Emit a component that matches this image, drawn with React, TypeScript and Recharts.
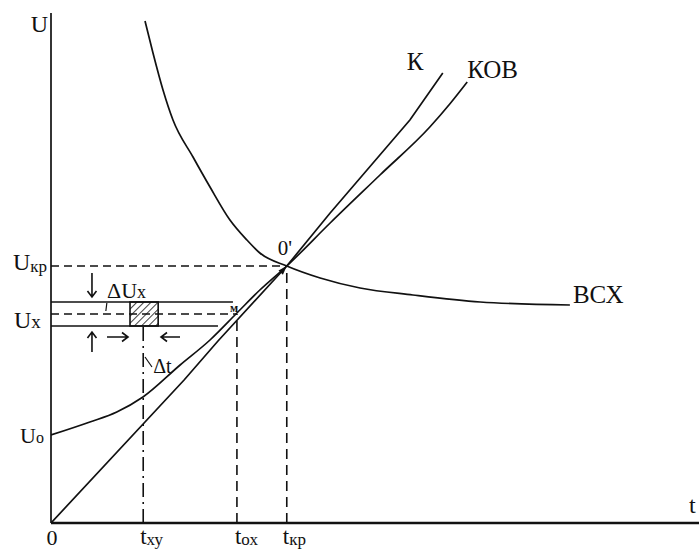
import React from 'react';
import {
  ComposedChart,
  Line,
  XAxis,
  YAxis,
  ReferenceLine,
  ReferenceArea,
  ReferenceDot,
} from 'recharts';

// Axis extents (time t, voltage U)
const T_MAX = 13;
const U_MAX = 10.2;

// Characteristic points
const T_XY = 1.85;
const T_OX = 3.73;
const T_KR = 4.73;
const U_KR = 5.14;
const U_X = 4.18;
const U_X_HI = 4.42;
const U_X_LO = 3.94;
const U_0 = 1.76;
const DT_T1 = 1.585;
const DT_T2 = 2.15;

// Curve К
const K_T = [0, 2.67, 3.35, 4.73, 5.6, 7.2, 7.86];
const K_U = [0, 2.86, 3.64, 5.14, 6.2, 8.06, 9.0];

// Curve КОВ
const KOV_T = [0, 0.78, 1.32, 1.845, 2.59, 3.19, 3.73, 4.19, 4.73, 5.6, 6.6, 7.6, 8.0, 8.35];
const KOV_U = [1.76, 2.02, 2.22, 2.52, 3.16, 3.66, 4.2, 4.66, 5.14, 6.0, 6.96, 7.92, 8.38, 8.82];

// Curve ВСХ
const VSX_T = [1.886, 2.046, 2.247, 2.447, 2.849, 3.19, 3.59, 3.93, 4.19, 4.73, 5.4, 6.2, 7.26, 8.61, 10.41];
const VSX_U = [10.04, 9.4, 8.66, 8.06, 7.32, 6.72, 6.06, 5.66, 5.4, 5.14, 4.9, 4.7, 4.56, 4.42, 4.36];

const toPoints = (ts: number[], us: number[]) => ts.map((t, i) => ({ t, u: us[i] }));
const kData = toPoints(K_T, K_U);
const kovData = toPoints(KOV_T, KOV_U);
const vsxData = toPoints(VSX_T, VSX_U);

const INK = '#111';
const FONT = "'Liberation Serif', 'DejaVu Serif', 'Times New Roman', serif";

type Txt = { main: string; sub?: string; size: number; subSize?: number; subDy?: number; anchor?: 'start' | 'middle' | 'end'; bold?: boolean };

const textShape = (txt: Txt, dx: number, dy: number) => (p: any) => (
  <text
    x={p.cx + dx}
    y={p.cy + dy}
    fill={INK}
    style={{ fontFamily: FONT, fontSize: txt.size, fontWeight: txt.bold ? 700 : 400 }}
    textAnchor={txt.anchor || 'start'}
  >
    {txt.main}
    {txt.sub ? (
      <tspan style={{ fontSize: txt.subSize }} dy={txt.subDy || 0}>
        {txt.sub}
      </tspan>
    ) : null}
  </text>
);

type Dir = 'up' | 'down' | 'left' | 'right';
const arrowShape = (dir: Dir, len: number) => (p: any) => {
  const v: Record<Dir, [number, number]> = { down: [0, 1], up: [0, -1], right: [1, 0], left: [-1, 0] };
  const [vx, vy] = v[dir];
  const { cx, cy } = p;
  const tx = cx - vx * len;
  const ty = cy - vy * len;
  const h = 6;
  const w = 4.5;
  const bx = cx - vx * h;
  const by = cy - vy * h;
  const px = -vy;
  const py = vx;
  const d = `M${tx},${ty} L${cx},${cy} M${bx + px * w},${by + py * w} L${cx},${cy} L${bx - px * w},${by - py * w}`;
  return <path d={d} stroke={INK} strokeWidth={1.6} fill="none" />;
};

// small filled arrowhead on the line at 0'
const tipShape = (p: any) => {
  const { cx, cy } = p;
  const ang = Math.atan2(-1.09, 1);
  const L = 9;
  const W = 3;
  const ux = Math.cos(ang);
  const uy = Math.sin(ang);
  const bx = cx - ux * L;
  const by = cy - uy * L;
  const d = `M${cx},${cy} L${bx - uy * W},${by + ux * W} L${bx + uy * W},${by - ux * W} Z`;
  return <path d={d} fill={INK} />;
};

const hatchShape = (p: any) => (
  <g>
    <defs>
      <pattern id="hatchDt" patternUnits="userSpaceOnUse" width="5" height="5" patternTransform="rotate(45)">
        <line x1="0" y1="0" x2="0" y2="5" stroke={INK} strokeWidth="1.6" />
      </pattern>
    </defs>
    <rect x={p.x} y={p.y} width={p.width} height={p.height} fill="#fff" />
    <rect x={p.x} y={p.y} width={p.width} height={p.height} fill="url(#hatchDt)" stroke={INK} strokeWidth={1.6} />
  </g>
);

const lineProps = { dot: false, stroke: INK, strokeWidth: 1.7, isAnimationActive: false, activeDot: false } as const;

export default function App() {
  return (
    <div style={{ position: 'absolute', left: 0, top: 0, width: 699, height: 550, background: '#fff' }}>
      <ComposedChart width={699} height={550} margin={{ top: 13, right: 0, bottom: 26, left: 50 }}>
        <XAxis
          type="number"
          dataKey="t"
          domain={[0, T_MAX]}
          allowDataOverflow
          tick={false}
          tickLine={false}
          height={1}
          axisLine={{ stroke: INK, strokeWidth: 2.5 }}
        />
        <YAxis
          type="number"
          dataKey="u"
          domain={[0, U_MAX]}
          allowDataOverflow
          tick={false}
          tickLine={false}
          width={1}
          axisLine={{ stroke: INK, strokeWidth: 1.7 }}
        />

        {/* guide lines */}
        <ReferenceLine segment={[{ x: 0, y: U_KR }, { x: T_KR, y: U_KR }]} stroke={INK} strokeWidth={1.6} strokeDasharray="8 5" />
        <ReferenceLine segment={[{ x: 0, y: U_X }, { x: T_OX, y: U_X }]} stroke={INK} strokeWidth={1.6} strokeDasharray="8 5" />
        <ReferenceLine segment={[{ x: 0, y: U_X_HI }, { x: 3.65, y: U_X_HI }]} stroke={INK} strokeWidth={1.6} />
        <ReferenceLine segment={[{ x: 0, y: U_X_LO }, { x: 3.35, y: U_X_LO }]} stroke={INK} strokeWidth={1.6} />
        <ReferenceLine segment={[{ x: T_XY, y: 0 }, { x: T_XY, y: U_X_LO }]} stroke={INK} strokeWidth={1.6} strokeDasharray="14 5 2 5" />
        <ReferenceLine segment={[{ x: T_OX, y: 0 }, { x: T_OX, y: U_X }]} stroke={INK} strokeWidth={1.6} strokeDasharray="10 6" />
        <ReferenceLine segment={[{ x: T_KR, y: 0 }, { x: T_KR, y: U_KR }]} stroke={INK} strokeWidth={1.6} strokeDasharray="10 6" />
        <ReferenceLine segment={[{ x: 1.12, y: 4.4 }, { x: 1.1, y: 4.24 }]} stroke={INK} strokeWidth={1.2} />
        <ReferenceLine segment={[{ x: 1.886, y: 3.32 }, { x: 2.026, y: 3.12 }]} stroke={INK} strokeWidth={1.2} />

        <ReferenceArea x1={DT_T1} x2={DT_T2} y1={U_X_LO} y2={U_X_HI} shape={hatchShape} />

        <Line data={vsxData} dataKey="u" type="monotone" {...lineProps} />
        <Line data={kovData} dataKey="u" type="monotone" {...lineProps} />
        <Line data={kData} dataKey="u" type="linear" {...lineProps} />

        <ReferenceDot x={T_KR} y={U_KR} r={0} ifOverflow="visible" shape={tipShape} />

        {/* ΔU and Δt arrows */}
        <ReferenceDot x={0.822} y={4.52} r={0} ifOverflow="visible" shape={arrowShape('down', 24)} />
        <ReferenceDot x={0.822} y={3.82} r={0} ifOverflow="visible" shape={arrowShape('up', 20)} />
        <ReferenceDot x={1.545} y={3.72} r={0} ifOverflow="visible" shape={arrowShape('right', 21)} />
        <ReferenceDot x={2.207} y={3.72} r={0} ifOverflow="visible" shape={arrowShape('left', 19)} />

        {/* axis titles */}
        <ReferenceDot x={0} y={U_MAX} r={0} ifOverflow="visible" shape={textShape({ main: 'U', size: 24, anchor: 'end' }, -3, 19)} />
        <ReferenceDot x={T_MAX} y={0} r={0} ifOverflow="visible" shape={textShape({ main: 't', size: 24 }, -10, -10)} />

        {/* vertical axis marks */}
        <ReferenceDot x={0} y={U_KR} r={0} ifOverflow="visible" shape={textShape({ main: 'U', sub: 'кр', size: 24, subSize: 17, subDy: 2 }, -38, 4)} />
        <ReferenceDot x={0} y={U_X} r={0} ifOverflow="visible" shape={textShape({ main: 'U', sub: 'х', size: 24, subSize: 19 }, -37, 14)} />
        <ReferenceDot x={0} y={U_0} r={0} ifOverflow="visible" shape={textShape({ main: 'U', sub: 'o', size: 22, subSize: 16 }, -31, 8)} />

        {/* horizontal axis marks */}
        <ReferenceDot x={0} y={0} r={0} ifOverflow="visible" shape={textShape({ main: '0', size: 22, anchor: 'middle' }, 1, 22)} />
        <ReferenceDot x={T_XY} y={0} r={0} ifOverflow="visible" shape={textShape({ main: 't', sub: 'ху', size: 23, subSize: 17, subDy: 1 }, -3, 21)} />
        <ReferenceDot x={T_OX} y={0} r={0} ifOverflow="visible" shape={textShape({ main: 't', sub: 'ох', size: 23, subSize: 17, subDy: 1 }, -2, 21)} />
        <ReferenceDot x={T_KR} y={0} r={0} ifOverflow="visible" shape={textShape({ main: 't', sub: 'кр', size: 23, subSize: 17, subDy: 1 }, -4, 21)} />

        {/* curve names and point marks */}
        <ReferenceDot x={K_T[K_T.length - 1]} y={K_U[K_U.length - 1]} r={0} ifOverflow="visible" shape={textShape({ main: 'К', size: 25 }, -36, -3)} />
        <ReferenceDot x={KOV_T[KOV_T.length - 1]} y={KOV_U[KOV_U.length - 1]} r={0} ifOverflow="visible" shape={textShape({ main: 'КОВ', size: 25 }, 0, -4)} />
        <ReferenceDot x={VSX_T[VSX_T.length - 1]} y={VSX_U[VSX_U.length - 1]} r={0} ifOverflow="visible" shape={textShape({ main: 'ВСХ', size: 25 }, 3, -2)} />
        <ReferenceDot x={T_KR} y={U_KR} r={0} ifOverflow="visible" shape={textShape({ main: "0'", size: 21 }, -9, -11)} />
        <ReferenceDot x={T_OX} y={U_X} r={0} ifOverflow="visible" shape={textShape({ main: 'м', size: 12, bold: true }, -7, -2)} />
        <ReferenceDot x={DT_T1} y={U_X_HI} r={0} ifOverflow="visible" shape={textShape({ main: 'ΔU', sub: 'х', size: 22, subSize: 18 }, -23, -4)} />
        <ReferenceDot x={T_XY} y={U_X_LO} r={0} ifOverflow="visible" shape={textShape({ main: 'Δt', size: 20 }, 10, 47)} />
      </ComposedChart>
    </div>
  );
}
